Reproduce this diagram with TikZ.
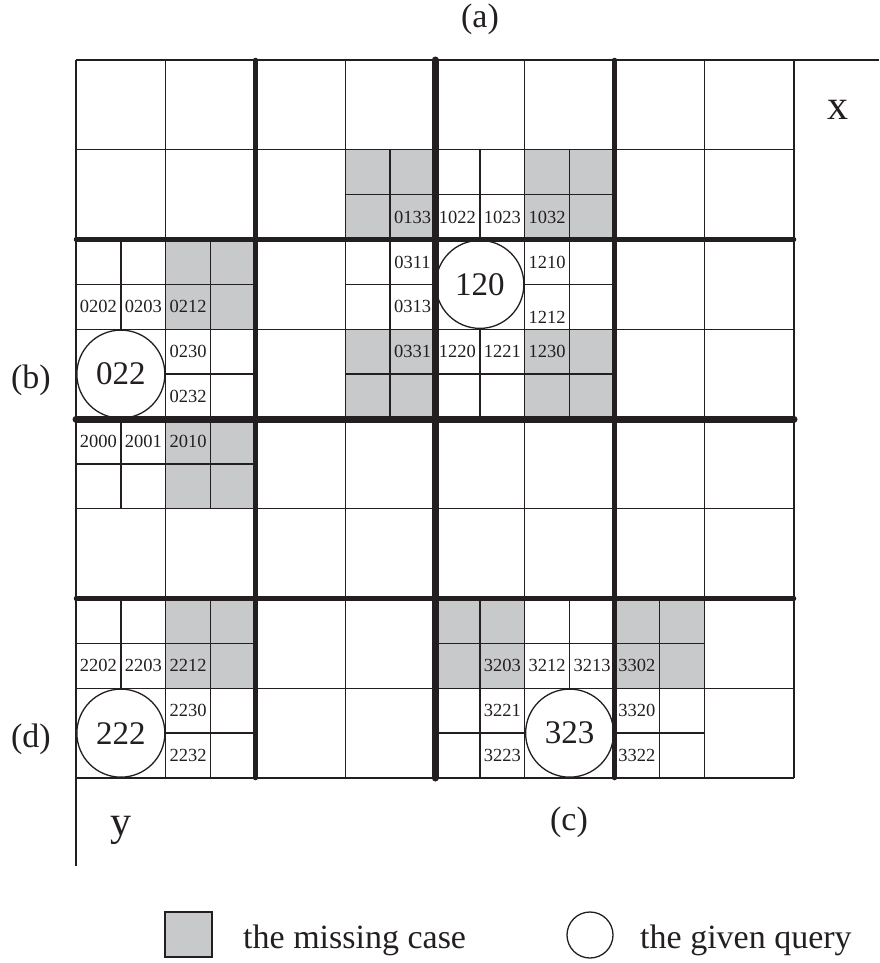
\documentclass[tikz,border=0pt]{standalone}
\usepackage{fontspec}
\setmainfont{Liberation Serif}
\definecolor{ink}{HTML}{231F20}
\definecolor{misscol}{HTML}{C8C9CB}
\def\cs{89.75}
\tikzset{
  gridl/.style={line width=1.3pt, draw=ink},
  thickA/.style={line width=4.5pt, draw=ink, line cap=round},
  thickB/.style={line width=7pt, draw=ink, line cap=round},
  sublab/.style={inner sep=0pt, font=\fontsize{18.5}{20}\selectfont, text=ink},
  qcircle/.style={circle, draw=ink, line width=1.3pt, fill=white, minimum size=88pt, inner sep=0pt, font=\fontsize{33}{36}\selectfont, text=ink},
  biglab/.style={inner sep=0pt, font=\fontsize{34}{40}\selectfont, text=ink},
  axlab/.style={inner sep=0pt, font=\fontsize{42}{46}\selectfont, text=ink},
  legtext/.style={inner sep=0pt, anchor=base west, font=\fontsize{34}{40}\selectfont, text=ink},
}
\begin{document}
\begin{tikzpicture}[x=1pt,y=-1pt]
\useasboundingbox (0,0) rectangle (879,963);
% gray (missing) cells
\foreach \c/\r in {3/1,5/1,1/2,3/3,5/3,1/4,1/6,4/6,6/6}
  \fill[misscol] ({76+\c*\cs},{60+\r*\cs}) rectangle ++(\cs,\cs);
% main grid
\foreach \i in {1,...,8}
  \draw[gridl] ({76+\i*\cs},60) -- ({76+\i*\cs},778);
\foreach \j in {1,...,8}
  \draw[gridl] (76,{60+\j*\cs}) -- (794,{60+\j*\cs});
% axes
\draw[gridl] (76,60) -- (879,60);
\draw[gridl] (76,60) -- (76,866);
% subdivisions
\foreach \c/\r in {3/1,4/1,5/1,0/2,1/2,3/2,5/2,1/3,3/3,4/3,5/3,0/4,1/4,0/6,1/6,4/6,5/6,6/6,1/7,4/7,6/7}{
  \draw[gridl] ({76+(\c+0.5)*\cs},{60+\r*\cs}) -- ++(0,\cs);
  \draw[gridl] ({76+\c*\cs},{60+(\r+0.5)*\cs}) -- ++(\cs,0);
}
% query circles
\node[qcircle] (q120) at ({76+4.5*\cs},{60+2.5*\cs}) {120};
\node[qcircle] (q022) at ({76+0.5*\cs},{60+3.5*\cs}) {022};
\node[qcircle] (q222) at ({76+0.5*\cs},{60+7.5*\cs}) {222};
\node[qcircle] (q323) at ({76+5.5*\cs},{60+7.5*\cs}) {323};
% thick lines
\draw[thickA] ({76+2*\cs},60) -- ({76+2*\cs},778);
\draw[thickA] ({76+6*\cs},60) -- ({76+6*\cs},778);
\draw[thickA] (76,{60+2*\cs}) -- (794,{60+2*\cs});
\draw[thickA] (76,{60+6*\cs}) -- (794,{60+6*\cs});
\draw[thickB] ({76+4*\cs},60) -- ({76+4*\cs},778);
\draw[thickB] (76,{60+4*\cs}) -- (794,{60+4*\cs});
% subcell labels
\foreach \c/\r/\a/\b/\t in {
  3/1/1/1/0133, 4/1/0/1/1022, 4/1/1/1/1023, 5/1/0/1/1032,
  0/2/0/1/0202, 0/2/1/1/0203, 1/2/0/1/0212, 3/2/1/0/0311, 3/2/1/1/0313, 5/2/0/0/1210,
  1/3/0/0/0230, 1/3/0/1/0232, 3/3/1/0/0331, 4/3/0/0/1220, 4/3/1/0/1221, 5/3/0/0/1230,
  0/4/0/0/2000, 0/4/1/0/2001, 1/4/0/0/2010,
  0/6/0/1/2202, 0/6/1/1/2203, 1/6/0/1/2212, 4/6/1/1/3203, 5/6/0/1/3212, 5/6/1/1/3213, 6/6/0/1/3302,
  1/7/0/0/2230, 1/7/0/1/2232, 4/7/1/0/3221, 4/7/1/1/3223, 6/7/0/0/3320, 6/7/0/1/3322}
  \node[sublab] (n\t) at ({76+(\c+0.25+0.5*\a)*\cs},{60+(\r+0.25+0.5*\b)*\cs}) {\t};
\node[sublab] (n1212) at ({76+(5.25)*\cs},317) {1212};
% region labels
\node[biglab] (la) at (480,19) {(a)};
\node[biglab] (lb) at (31,380) {(b)};
\node[biglab] (lc) at (569,822) {(c)};
\node[biglab] (ld) at (31,739) {(d)};
\node[axlab] (lx) at (838,110) {x};
\node[axlab] (ly) at (121,830) {y};
% legend
\node[draw=ink, line width=1.3pt, fill=misscol, minimum width=47pt, minimum height=45pt, inner sep=0pt] (legsq) at (188.5,934.5) {};
\node[legtext] (legt1) at (243,948) {the missing case};
\node[circle, draw=ink, line width=1.3pt, minimum size=46pt, inner sep=0pt] (legc) at (590,935) {};
\node[legtext] (legt2) at (640,948) {the given query};
\end{tikzpicture}
\end{document}
